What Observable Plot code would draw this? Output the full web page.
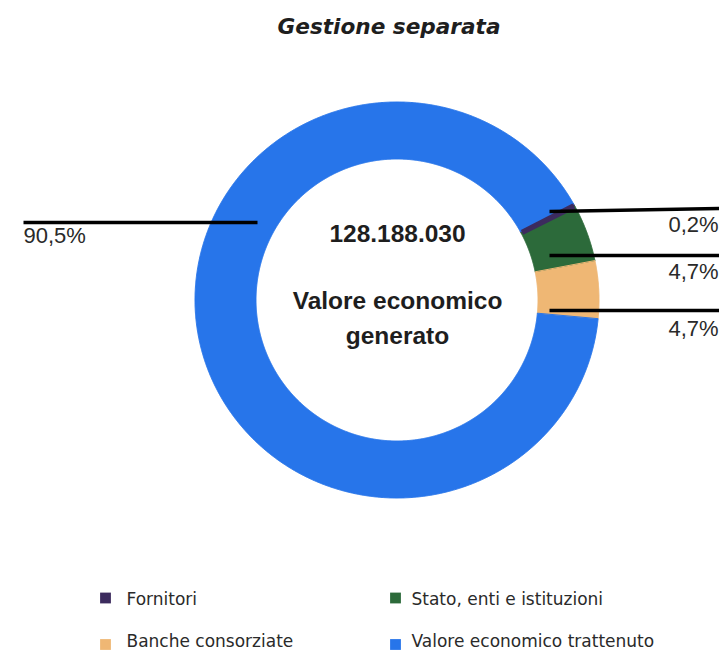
<!DOCTYPE html>
<html><head><meta charset="utf-8">
<script src="https://cdn.jsdelivr.net/npm/d3@7"></script>
<script src="https://cdn.jsdelivr.net/npm/@observablehq/plot@0.6"></script>
<style>html,body{margin:0;padding:0;background:#fff;overflow:hidden;width:719px;height:651px}</style>
</head><body><div id="chart"></div>
<script>
// ---- data ----
const categories = ["Fornitori", "Stato, enti e istituzioni", "Banche consorziate", "Valore economico trattenuto"];
const shares = [0.2, 4.7, 4.7, 90.5];
const shareLabels = ["0,2%", "4,7%", "4,7%", "90,5%"];
const colors = ["#3c2b5e", "#2c6a3a", "#efb774", "#2775ea"];
const chartTitle = "Gestione separata";
const centerValue = "128.188.030";
const centerLabel = ["Valore economico", "generato"];

// ---- layout ----
const W = 719, H = 651;
const cx = 397, cy = 300, Rx = 202, Ry = 198, rIn = 141;
const startDeg = 61;
const labelLayout = [
  {x: 668, y: 231, x1: 549, y1: 211, x2: 719, y2: 208},
  {x: 668, y: 278, x1: 549, y1: 255, x2: 719, y2: 255},
  {x: 668, y: 335, x1: 549, y1: 310, x2: 719, y2: 310},
  {x: 23, y: 242, x1: 23, y1: 222, x2: 257, y2: 222}
];
const legendCols = [105.5, 395.5], legendTextCols = [126, 411];
const legendRows = [598, 644.5], legendTextRows = [604, 646];
const sq = 5.4;

// ---- geometry through d3.pie ----
const slices = categories.map((name, i) => ({name, v: shares[i]}));
const a0 = startDeg * Math.PI / 180;
const arcs = d3.pie().sort(null).value(d => d.v).startAngle(a0).endAngle(a0 + 2 * Math.PI)(slices);
const ringPts = [];
for (const a of arcs) {
  const n = Math.max(2, Math.ceil((a.endAngle - a.startAngle) / (Math.PI / 720)));
  for (let k = 0; k <= n; k++) {
    const t = a.startAngle + (a.endAngle - a.startAngle) * k / n;
    ringPts.push({
      name: a.data.name,
      ox: cx + Rx * Math.sin(t), oy: cy - Ry * Math.cos(t),
      ix: cx + rIn * Math.sin(t), iy: cy - rIn * Math.cos(t)
    });
  }
}
// radial edges of the thin first slice (to keep it visible)
const thinEdges = [arcs[0].startAngle, arcs[0].endAngle].map(t => ({
  name: arcs[0].data.name,
  x1: cx + (rIn + 1) * Math.sin(t), y1: cy - (rIn + 1) * Math.cos(t),
  x2: cx + (Rx - 1) * Math.sin(t), y2: cy - (Ry - 1) * Math.cos(t)
}));
const labels = shareLabels.map((s, i) => ({s, ...labelLayout[i]}));
const legend = categories.map((name, i) => {
  const sx = legendCols[i % 2], sy = legendRows[Math.floor(i / 2)];
  return {name, x1: sx - sq, x2: sx + sq, y1: sy - sq, y2: sy + sq,
    tx: legendTextCols[i % 2], ty: legendTextRows[Math.floor(i / 2)]};
});
const centerTexts = [
  {t: centerValue, y: 241},
  {t: centerLabel[0], y: 308},
  {t: centerLabel[1], y: 343}
];

const plot = Plot.plot({
  width: W, height: H, margin: 0,
  x: {domain: [0, W], range: [0, W], axis: null},
  y: {domain: [0, H], range: [0, H], axis: null},
  color: {domain: categories, range: colors},
  style: {background: "#fff", overflow: "visible"},
  marks: [
    Plot.area(ringPts, {x1: "ox", y1: "oy", x2: "ix", y2: "iy", z: "name", fill: "name", stroke: "name", strokeWidth: 1}),
    Plot.link(thinEdges, {x1: "x1", y1: "y1", x2: "x2", y2: "y2", stroke: "name", strokeWidth: 3.5, strokeLinecap: "butt"}),
    Plot.link(labels, {x1: "x1", y1: "y1", x2: "x2", y2: "y2", stroke: "#000", strokeWidth: 3.5}),
    Plot.text(labels, {x: "x", y: "y", text: "s", textAnchor: "start", lineAnchor: "bottom",
      fontFamily: "Liberation Sans, Arial, sans-serif", fontSize: 22, fill: "#2a2a2a"}),
    Plot.text(centerTexts, {x: () => cx, y: "y", text: "t", textAnchor: "middle", lineAnchor: "bottom",
      fontFamily: "Liberation Sans, Arial, sans-serif", fontWeight: "bold", fontSize: 24.5, fill: "#1e1e1e"}),
    Plot.text([chartTitle], {x: () => 388.5, y: () => 33, text: d => d, textAnchor: "middle", lineAnchor: "bottom",
      fontFamily: "DejaVu Sans, sans-serif", fontWeight: "bold", fontStyle: "italic", fontSize: 21.6, fill: "#1e1e1e"}),
    Plot.rect(legend, {x1: "x1", x2: "x2", y1: "y1", y2: "y2", fill: "name"}),
    Plot.text(legend, {x: "tx", y: "ty", text: "name", textAnchor: "start", lineAnchor: "bottom",
      fontFamily: "DejaVu Sans, sans-serif", fontSize: 17, fill: "#2a2a2a"})
  ]
});
document.getElementById("chart").appendChild(plot);
</script>
</body></html>
